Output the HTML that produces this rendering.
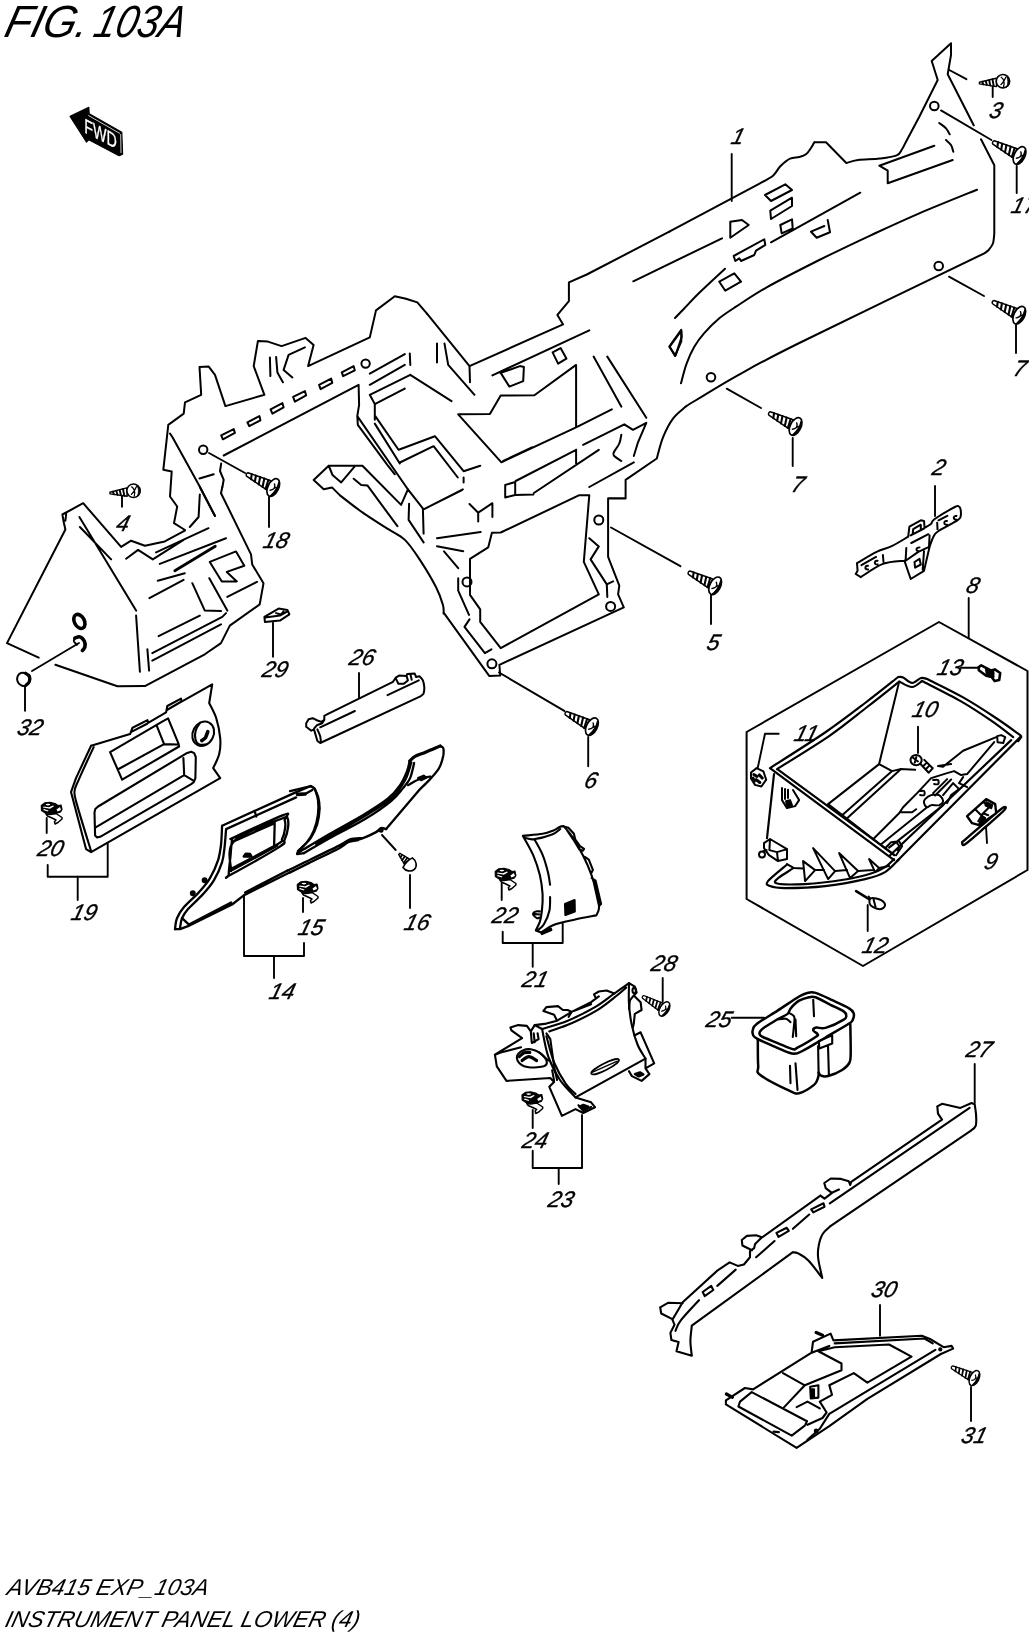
<!DOCTYPE html>
<html lang="en">
<head>
<meta charset="utf-8">
<title>FIG.103A - AVB415 EXP_103A - INSTRUMENT PANEL LOWER (4)</title>
<style>
html,body{margin:0;padding:0;background:#fff;}
body{width:1029px;height:1635px;overflow:hidden;position:relative;}
svg{display:block;position:absolute;left:0;top:0;}
svg{will-change:transform;}
text{font-family:"Liberation Sans",sans-serif;font-style:italic;fill:#000;stroke:none;}
.n{font-size:22.5px;stroke:#000;stroke-width:0.35px;}
</style>
</head>
<body>
<svg width="1029" height="1635" viewBox="0 0 1029 1635">
<defs>
<!-- long tapping screw, tip at origin, axis +x -->
<g id="scr" fill="none" stroke="#000" stroke-width="1.5" stroke-linejoin="round" stroke-linecap="round">
<path d="M0.6 -1.7 C-0.6 -1 -0.6 1.2 0.8 1.9 L24.6 5 L24.6 -5 Z" fill="#fff"/>
<path d="M4.6 -2 L6.2 2.6 M9 -2.7 L10.8 3.2 M13.4 -3.3 L15.4 3.8 M17.8 -3.9 L20 4.4 M22 -4.5 L23.6 4.8" stroke-width="2.1"/>
<ellipse cx="29.8" cy="0" rx="5.3" ry="9.5" fill="#fff" stroke-width="1.7"/>
<path d="M32.2 -7.4 C36 -3 35.6 4.6 31 8.6 C33 3.8 33.4 -3 32.2 -7.4 Z" fill="#000" stroke-width="1.1"/>
<path d="M29.2 -3.8 C30.6 -2.6 31.2 -1 31 0.4 C30.4 2 29.4 3 28.2 3.8 M31 0.4 L32.4 -1.4" stroke-width="1.4"/>
</g>
<!-- short screw with round phillips head -->
<g id="scs" fill="none" stroke="#000" stroke-width="1.4" stroke-linejoin="round" stroke-linecap="round">
<path d="M0 -0.8 L17 -4.2 L17 4.2 L0 0.9 Z" fill="#fff"/>
<path d="M3 -1.2 L3.8 1.5 M6.4 -1.9 L7.4 2.2 M9.8 -2.6 L10.8 2.9 M13.2 -3.3 L14.2 3.6" stroke-width="1.9"/>
<circle cx="23.6" cy="-1" r="6.7" fill="#fff" stroke-width="1.6"/>
<path d="M22 -5 C24.5 -3.5 25.5 1 24 4.4 M26.8 -5 C25.4 -2 22.8 1.4 21.4 2.4" stroke-width="1.3"/>
<path d="M27.8 -5.4 C31 -2 30.6 2.8 27 5.2 C28.8 1.6 29 -2 27.8 -5.4Z" fill="#000" stroke-width="0.8"/>
</g>
<!-- spring clip, origin top-left, ~21x22 -->
<g id="clip" stroke="#000" stroke-linejoin="round" stroke-linecap="round">
<path d="M5 12 L9 12.5 L15 11.5 L21 15.5 L21 17 L17 20.5 L14 22 L13.5 19.5 L15 18 L11 16 L6.5 14 Z" fill="#fff" stroke-width="1.5"/>
<path d="M0.3 3.5 L4 0.8 L9 0.3 L14 1.5 L17 3.5 L20 3 L21 7.5 L19.5 10 L15 11.5 L11 12 L5 11.5 L0.5 8.5 Z" fill="#000" stroke-width="1.2"/>
<ellipse cx="7" cy="2.6" rx="2.4" ry="0.8" fill="#fff" stroke="none"/>
<path d="M2 5.6 L9 6.8 L13 4.2 L12 3.6 L8 5.2 L2.5 4.6 Z M15.5 7.6 L19 5 L20 8 L16.5 9.6 Z M2 8 L7 9.6 L7.5 8.6 L3 7 Z" fill="#fff" stroke="none"/>
</g>
<!-- short screw, mushroom head -->
<g id="scm" fill="none" stroke="#000" stroke-width="1.4" stroke-linejoin="round" stroke-linecap="round">
<path d="M0 -0.8 L11 -3.6 L11 3.6 L0 0.9 Z" fill="#fff"/>
<path d="M2.6 -1.2 L3.4 1.5 M5.6 -2 L6.6 2.3 M8.6 -2.8 L9.6 3" stroke-width="1.8"/>
<path d="M12 -6.6 C11 -3 11 3 12.4 6.8 C17 7.6 21.6 4 21.6 0 C21.6 -4.4 17 -7.6 12 -6.6 Z" fill="#fff" stroke-width="1.6"/>
</g>
</defs>
<rect width="1029" height="1635" fill="#fff"/>
<g fill="none" stroke="#000" stroke-width="2" stroke-linejoin="round" stroke-linecap="round">
<path d="M669.3 231.7 L760 183.3M760 183.3C762.2 182.1 769.6 178.5 773 175.7C776.4 172.8 777.5 169.2 780.3 166.3C783.2 163.5 786.8 160.2 790 158.7C793.2 157.1 796.6 157.8 799.3 157C802.1 156.2 804.4 155.5 806.3 154C808.3 152.5 809.7 149.9 811 148C812.3 146.1 813.8 143.3 814.3 142.3M814.3 142.3 L826 142.3 L846.3 163M846.3 163C848.3 162.5 852.4 160.8 858 160C863.6 159.2 873.2 159.3 879.7 158.5C886.1 157.7 892.9 156.9 896.7 155.3C900.4 153.8 900.4 151.6 902 149.3C903.6 147.1 905.3 142.9 906 141.7M906 141.7 L919.3 116.7 L937.7 80 L931.7 61 L951 43.3 L951 55 L948.3 70.7 L947.7 74.3 L973.7 125.3M981 139.3 L994.3 165.3 L994.3 233.3M994.3 233.3C994.1 235 993.9 240.6 993 243.3C992.1 246.1 990.1 248.3 988.7 250C987.2 251.7 985.1 252.8 984.3 253.3M984.3 253.3C953.5 268.3 840.7 322.5 799.3 343C757.9 363.5 754.9 365.8 736 376.3C717.1 386.9 694.3 401.3 686 406.3" fill="none" stroke-width="2"/>
<circle cx="934.3" cy="106" r="4.3" fill="none" stroke-width="2"/>
<circle cx="938.7" cy="266" r="4.3" fill="none" stroke-width="2"/>
<circle cx="711" cy="377.3" r="4.3" fill="none" stroke-width="2"/>
<path d="M633.3 281.3 L722 238.3M675 318C676.5 316.4 679.9 312.9 684 308.7C688.1 304.4 692.5 299.3 699.3 292.7C706.2 286 720.7 272.7 725 268.7M771 242.3 L860.3 192.7M681 383.3C681.9 380 684.4 369.4 686.7 363.3C688.9 357.2 691.4 351.7 694.3 346.7C697.2 341.7 699.8 338.1 704 333.3C708.2 328.6 714 322.8 719.3 318.3C724.7 313.9 728.1 311.8 736 306.7C743.9 301.5 752.8 295.1 766.7 287.3C780.6 279.6 802 268.7 819.3 260C836.7 251.3 854 243.1 870.7 235.3C887.3 227.6 901.6 220.9 919.3 213.3C937.1 205.7 967.4 193.6 977 189.7M765 195 L785.3 184.3 L792 190 L771 201ZM770.3 210.7 L792 197.7 L792 206 L771 219ZM780.3 225 L792 219.3 L792.7 228.3 L781.7 233.3ZM730.3 221.7 L742 220 L748.7 225 L730.3 237.7ZM733.7 256 L764.3 239.3 L765.3 245 L756 250.7 L754.3 255 L741 261 L739.3 258.3 L735.3 261ZM719.3 281.7 L734.3 273.3 L741 281.7 L725.3 290.7ZM824.3 226 L811 231.7 L816.7 237.7 L830 232.3 L827.7 220M934.3 145.7 L879.3 165.7 L887.7 170.7 L887.7 183.3 L952.7 160M939.3 123C940.4 123.9 944.3 126.4 946 128.3C947.7 130.2 949.1 133.3 949.7 134.3M946 140C946.8 140.8 949.8 143.1 951 145C952.2 146.9 952.9 150.6 953.3 151.7M669.7 346.7 L681.3 330.7 L681.3 341.3 L675 356ZM168.3 424.8 L170 423.6 L183.7 413.6 L185 402.3 L201.2 394.8 L199.5 366.9 L208.7 366.6 L215 374.9 L225.4 406.1 L264.4 394.8 L253.7 366.1 L257.9 341.1 L267.9 341.6 L281.6 346.1 L305.6 337.9 L313.6 344.9 L308.1 366.1 L369.8 337.4 L376 310.4 L394.8 296.2 L406 298.7 L417.3 302.4 L427 313.7M168.3 424.8 L163.3 469.8 L171.7 471.5 L170 496.5 L177.2 506.5 L174 523.2 L185 530M269.9 357.4 L270.4 376.1M276.1 356.9 L277.4 372.4 L282.9 382.3M304.9 347.4 L288.6 354.9 L283.6 369.9 L292.4 377.4M221.2 435.3 L233.7 429.1 L234.9 432.8 L222.9 439.3ZM247.4 422.3 L259.4 416.1 L260.4 420.3 L249.2 426.1ZM270.6 409.3 L282.4 403.1 L283.6 407.3 L272.4 413.6ZM293.1 396.8 L304.9 391.1 L306.1 395.3 L294.9 401.6ZM319.1 384.8 L331.1 378.6 L332.3 382.8 L320.6 389.1ZM341.8 372.4 L353.6 366.1 L354.8 370.4 L343.1 376.1Z" fill="none" stroke-width="2"/>
<circle cx="365.6" cy="363.6" r="4.2" fill="none" stroke-width="2"/>
<circle cx="203.2" cy="449.8" r="4.2" fill="none" stroke-width="2"/>
<path d="M223.7 455.5 L358.6 384.8 L359.1 404.8 L357.3 416.1 L357.8 424.8 L387.3 464.8 L394.8 474.3M357.3 416.1 L408 489.5M369.8 373.6 L404.8 354.1M409.8 353.6 L410.3 364.9M369.8 384.8 L404.8 364.9M374.8 404.1 L369.8 394.8 L410.3 374.9M404.8 388.6 L374.8 404.1 L374.8 419.8M375.3 416.1 L398.5 449.8M374.8 423.6 L399.8 463.5M170 433.5 L172.5 437.3 L200 487 L215 516M199.5 478.5 L213.7 474.3M221.2 463.5 L220 471 L223.7 479.8 L222.4 487M669.3 231.7 L586.8 274.5 L568.9 282.4 L568.9 301.2 L557.4 314.9 L563.1 324.4 L469.5 366.1 L427 313.7M669.3 346.6 L681.2 329.9 L681.7 336.9 L675.5 355.6ZM437 343.6 L437 362.4M444.5 343.6 L448.2 364.9 L474.5 394.8M469.5 366.1 L470 382.3M410.3 374.9 L451.5 401.1M492.4 375.4 L589.3 330.4M500.7 372.9 L519.9 366.1 L523.9 366.9 L523.2 381.1 L509.4 386.6ZM552.6 352.4 L560.6 348.1 L566.4 358.6 L558.1 363.6ZM576.1 427.3 L576.1 364.9 L534.4 395.3 L500.7 395.6 L489.9 414.1 L458.2 414.3 L501.4 462.3 L576.1 427.3 L611.8 409.3M503.2 461 L531.9 447.3M593.6 356.6 L621.3 406.6M607.3 356.6 L646.3 417.8M583.1 444.8 L624.3 424.3 L633 429.8 L646.3 422.8 L638 442.3 L633.8 456M621.3 434.8C621 436.3 620.6 440.6 619.3 443.5C618.1 446.5 614.6 450.2 613.8 452.3C613 454.4 613.1 454.6 614.3 456C615.6 457.5 620.1 460.2 621.3 461M576.1 449.8 L576.1 463.5M515.7 481 L576.1 449.8M533.9 493 L598.8 449.8M589.3 487 L633.8 462.3M505.2 485 L515.2 482 L515.2 495 L505.2 497.5ZM515.2 495 L533.4 494.5M685.5 406.8C683.4 408.8 676.8 413.5 673 418.6C669.3 423.6 665.7 430.6 663 437.3C660.3 444 657.8 455 656.8 458.5M656.8 458.5 L625.6 479.8 L625.6 498.5 L608.1 498.5M625.6 497 L625.6 498.2 L608.1 498.2 L608.1 556.9 L619.3 585.7 L618.1 594.4 L623.8 607.4 L499.4 664.8 L500.2 675.6 L489.4 676.1 L444 613.1M579.3 495.2 L589.3 495.2 L583.8 561.9 L598.8 594.4 L500.7 648.1 L480.2 621.9 L480.2 609.4 L470 594.9 L470 558.9 L488.2 547.4 L491.9 532.7 L500.7 532.5Z" fill="none" stroke-width="2"/>
<circle cx="598.8" cy="520" r="4.5" fill="none" stroke-width="2"/>
<circle cx="467" cy="581.9" r="4.5" fill="none" stroke-width="2"/>
<circle cx="610.6" cy="606.4" r="4.5" fill="none" stroke-width="2"/>
<circle cx="491.9" cy="663.8" r="4.5" fill="none" stroke-width="2"/>
<path d="M589.3 538.2 L598.8 546.4 L590.6 559.4 L606.8 584.4 L613.1 581.4M606.8 584.4 L607.3 596.9M437 538.2 L480.7 532M437 546.2 L463.2 551.2M444 551.4 L458.2 568.2M458.2 578.2 L458.2 590.6 L469 614.9M469.5 619.4 L464.5 626.9 L484.9 653.1 L491.4 649.3M427 507.7 L462 490M469.5 504 L478.2 512.7 L492.4 503.2 L492.4 517M478.2 512.7 L478.2 521.5M362.4 465.7 L328.7 465.7 L313.7 480 L323.7 489.2 L332 487.4 L340 495.4M340 495.4C343.7 498.3 354.5 506.9 362.4 512.4C370.3 518 380.3 524.1 387.4 528.7C394.5 533.2 399.5 534.7 404.9 539.9C410.3 545.1 414.7 552 419.9 559.9C425.1 567.8 432.3 579.9 436.1 587.3C439.9 594.8 441.6 600.5 442.9 604.8C444.1 609.2 443.5 612.1 443.6 613.6M328.7 465.7 L332.5 475 L341.2 482.4 L355.4 465.7M362.4 465.7 L401.1 504.9 L407.9 489.4M353.7 478.7 L361.2 484.9 L367.4 485.4 L397.4 526.2M409.1 503.7 L408.6 519.9 L423.6 542.4M422.9 509.4 L423.6 533.6M407.9 489.4 L423.6 509.4 L462.8 489.4M399.9 462.5 L433.6 446.2 L457.8 477.5M399.4 449.5 L434.9 436.2 L463.6 471.2 L480.3 465.7M463.6 477.5 L463.6 482.4M184.8 530.7 L164.8 541.4 L144.9 545.7 L131.1 540.7 L121.1 546.9 L83.2 503.2 L62.4 514.5 L63.7 522 L65.4 529.5 L7 643.1 L38.7 657.6M55.4 664.8 L117.4 686.3 L144.9 686.1 L204.8 654.3 L221 643.1 L229.8 625.6 L259.7 604.4 L263.5 583.2 L252.2 564.4 L251 554.4 L221 493.2 L222.3 487M66.2 514 L65.4 520.7M79.4 517 L136.1 610.6M79.9 527 L111.1 559.4M136.1 615.6 L139.9 671.8M147.4 649.3 L149.1 670.6M126.1 558.7 L138.1 549.9 L152.8 559.4 L183.6 539.9M156.1 552.4 L208.5 528.2M159.8 563.9 L226 538.2" fill="none" stroke-width="2"/>
<path d="M174.8 570.7 L215.3 546.2" fill="none" stroke-width="2.8"/>
<path d="M157.8 580.7 L184.8 573.2M149.4 598.1 L183.6 579.9M192.3 583.2 L204.8 610.6 L221 611.1M209.3 578.2 L227.3 610.6M227.3 596.9 L257 581.9M209.8 561.9 L236 551.4 L244.3 565.7 L226.8 571.9 L236.8 581.4 L221.8 581.4ZM158.6 636.1 L199.8 615.6M152.3 653.1 L222.3 616.9 L226 613.1M152.3 660.6 L221 624.4M199.8 487 L214.8 515.7M199.8 494.5 L198.6 517 L189.8 527" fill="none" stroke-width="2"/>
<ellipse cx="79.4" cy="621.4" rx="5" ry="7.5" fill="none" stroke-width="3.6" transform="rotate(-28 79.4 621.4)"/>
<path d="M74.9 638.1C75.8 637.9 78.3 636.3 79.9 636.9C81.5 637.4 83.6 639.7 84.4 641.3C85.2 643 85.2 645.3 84.9 646.8C84.6 648.4 82.8 650 82.4 650.6" fill="none" stroke-width="3.6"/>
<path d="M74.9 638.1C74.8 638.6 73.6 640.2 73.9 641.3C74.3 642.5 76.4 644.3 76.9 644.8" fill="none" stroke-width="2"/>
<ellipse cx="23.2" cy="679.3" rx="6" ry="6.7" fill="none" stroke-width="2" transform="rotate(-20 23.2 679.3)"/>
<path d="M25.5 673.3C26.1 673.8 28.8 674.9 29.5 676.3C30.1 677.7 29.8 680.3 29.2 681.8C28.6 683.3 26.5 684.7 26 685.3" fill="none" stroke-width="3.2"/>
<path d="M91.1 745.7 L130.1 734.1 L132.5 727.7 L147.5 720.1 L148.1 722.9 L166.1 712.4 L167.3 706 L181 698.6 L181.6 701.6 L212.2 684.4 L209.2 703M209.2 703C210.3 705.5 214.4 712.2 216.2 718C218 723.9 219.7 732.1 220.2 738.1C220.7 744.1 220.4 749.1 219.2 754.1C218 759.1 214.2 765.8 213.2 768.1M213.2 768.1 L220.2 778.1 L91.1 852.2 L86.1 849.2 L71 792.1 L76 778.1 L91.1 745.7M93.7 747.1C91.2 752.4 82.3 771.6 79 779.1C75.8 786.6 74.6 787.3 74.4 792.1C74.3 797 75.3 798.3 78 808.1C80.8 818 88.9 844 91.1 851.2M130.9 732.1 L147.1 723.7M166.9 710 L180.6 702M110.1 752.1 L163.1 721.1 L168.1 718.4 L178.5 743.7 L179.1 746.5 L122.1 779.7ZM156.5 725.1 L164.1 744.1 L177.1 744.5M164.1 744.1 L117.7 769.5M94.5 812.5 L95.3 809.1 L98.1 806.5 L187.2 752.9 L191.2 751.7 L194.2 753.1 L195.8 757.1 L195.4 778.1 L193.8 782.1 L191.2 784.1 L100.1 836.8 L97.1 837.4 L95.1 835.4ZM96.1 827.2 L184.2 775.1 L192.6 780.1M184.2 775.1 L183.4 758.1" fill="none" stroke-width="2.1"/>
<ellipse cx="203.2" cy="733.7" rx="10.4" ry="12.6" fill="none" stroke-width="2.1" transform="rotate(28 203.2 733.7)"/>
<path d="M200.2 722.5C199.4 723.7 196.6 727.3 195.8 730.1C195 732.8 194.8 736.7 195.4 739.1C195.9 741.5 197.4 743.6 199.2 744.5C201 745.4 205 744.5 206.2 744.5" fill="none" stroke-width="2.1"/>
<path d="M201.8 740.5C202.4 740 204.4 739.1 205.4 737.7C206.4 736.2 207.4 732.7 207.8 731.7" fill="none" stroke-width="3.6"/>
<path d="M222.1 825.7 L295.1 792.6 L310.7 786 L314.1 788M314.1 788C314.8 789.5 317.3 793.5 318.2 797C319.1 800.5 319.7 804.5 319.6 809C319.4 813.6 318.6 819.2 317.2 824.1C315.7 828.9 313.1 834.4 310.7 838.1C308.4 841.7 305.2 843.8 303.1 846.1C301 848.4 299 851.1 298.1 852.1M222.1 825.7C221.9 828.7 221.7 838.3 221.1 844.1C220.4 849.8 219.9 854.4 218.1 860.1C216.2 865.8 213.2 872.8 210 878.1C206.9 883.5 203.4 887.3 199 892.1C194.7 897 187.7 902.8 184 907.1C180.3 911.5 178.5 914.5 177 918.2C175.5 921.8 175.3 927.3 175 929.2M226.1 829.1C225.8 831.9 225.3 840.6 224.7 846.1C224 851.6 223.8 856.4 222.1 862.1C220.3 867.8 217.2 874.8 214 880.1C210.9 885.5 207.4 889.3 203 894.1C198.7 899 191.5 905.1 188 909.1C184.5 913.2 183.4 915 182 918.2C180.7 921.3 180.3 926.5 180 928.2M226.1 829.1 L256.1 815.5 L296.1 797.4M255.1 812.7 L256.3 816.5" fill="none" stroke-width="2.3"/>
<path d="M297.5 794.4 L305.1 794" fill="none" stroke-width="3.6"/>
<path d="M305.1 794 L312.3 790M175 929.2 L180 929.2 L188 926.2 L232.1 904.5 L244.1 895.1 L289.5 872.5M245.1 892.5 L287.5 870.5M182 918.2 L189 924.6 L231.1 902.5" fill="none" stroke-width="2.3"/>
<circle cx="204.6" cy="880.3" r="1.8" fill="#000" stroke-width="2.3"/>
<circle cx="192.8" cy="893.3" r="1.8" fill="#000" stroke-width="2.3"/>
<path d="M228.7 874.5C228.7 871.3 229.9 861.8 230.5 856.1C231 850.4 231.4 843.2 232.1 840.1C232.8 836.9 226.2 841.2 234.7 837.1C243.2 832.9 274.4 818.5 283.1 815.1C291.9 811.7 286.3 814.7 287.1 816.7C288 818.7 288.6 823.2 288.1 827.1C287.7 831 286 836.7 284.5 840.1C283 843.4 288.2 841.2 279.1 847.1C270 852.9 238.5 870.5 230.1 875.1C221.7 879.7 228.6 877.7 228.7 874.5ZM231.1 871.1C231.6 866.1 225.6 849.9 234.1 841.1C242.6 832.3 273.7 822 282.1 818.5C290.6 815 284.2 818.5 284.7 820.1C285.2 821.7 285.6 824.9 285.1 828.1C284.7 831.2 283.5 836.3 282.1 839.1C280.8 841.8 285.5 839.4 277.1 844.5C268.8 849.6 239.6 865.5 232.1 869.7M234.1 841.1 L274.7 823.1 L274.1 846.1 L232.7 868.1" fill="none" stroke-width="2.3"/>
<path d="M243.7 856.5 L245.7 853.7 L250.1 853.9 L251.5 856.5Z" fill="#000" stroke-width="2.3"/>
<path d="M232.7 869.7 L277.1 845.7" fill="none" stroke-width="2.6"/>
<path d="M290 791.1 L311 786.1 L315 789.1M315 789.1C315.5 790.9 317.5 795.9 318 800.1C318.5 804.3 318.7 809.1 318 814.1C317.4 819.1 315.9 825.4 314 830.1C312.2 834.8 309.7 838.6 307 842.1C304.3 845.6 299.5 849.6 298 851.1M298 851.1 L297.2 854.1 L304 853.1" fill="none" stroke-width="2.3"/>
<path d="M297.2 853.7C298.3 853 298.5 852.5 304 849.1C309.5 845.8 320 839.5 330 833.7C340.1 827.9 354.4 820.4 364.1 814.5C373.8 808.6 382.1 803.4 388.1 798.5C394.1 793.6 396.9 789.6 400.1 785.1C403.3 780.5 405.5 775.1 407.1 771.1C408.7 767 409.3 762.7 409.7 761" fill="none" stroke-width="2.4"/>
<path d="M304 853.1C308.4 850.6 319.9 843.8 330 838.1C340.2 832.4 354.9 825.3 365.1 819.1C375.3 812.9 384.8 806.3 391.1 801.1C397.4 795.9 399.9 791.9 403.1 788.1C406.3 784.2 408.3 782.2 410.1 778.1C412 773.9 413.5 765.5 414.1 763M316 843.7C320.4 841.3 333.4 834 342.1 829.1C350.7 824.2 359.9 819.3 368.1 814.1C376.3 808.9 384.9 803.8 391.1 798.1C397.3 792.4 401.7 786 405.1 780.1C408.5 774.1 410.3 765.4 411.3 762.4" fill="none" stroke-width="2.3"/>
<path d="M409.7 761C410.6 760.3 412.4 757.9 415.1 756.4C417.9 754.9 422 753.8 426.1 752C430.3 750.3 437.8 747 440.2 746" fill="none" stroke-width="3.2"/>
<path d="M440.2 746C440.7 746.4 442.7 746.4 443.2 748C443.7 749.7 443.8 752.7 443.2 756C442.5 759.4 441.3 764.2 439.1 768C437 771.9 433.3 775.6 430.1 779.1C427 782.6 421.8 787.4 420.1 789.1M420.1 789.1 L386.1 829.1M408.1 785.1C409.8 784.2 414.5 781.1 418.1 779.7C421.8 778.2 428.1 777 430.1 776.5" fill="none" stroke-width="2.3"/>
<path d="M418.1 778.1 L423.7 775.7 L426.1 777.7 L421.1 780.1Z" fill="#000" stroke-width="2.3"/>
<path d="M386.1 829.1C385.3 828.9 382.8 827.6 381.1 828.1C379.4 828.6 379.6 830.3 376.1 832.1C372.6 833.9 364.4 837.7 360.1 839.1C355.7 840.5 353.4 839.1 350.1 840.5C346.7 842 346.7 844.1 340.1 847.7C333.4 851.4 318.4 858.4 310 862.5C301.6 866.7 293 870.9 289.6 872.6" fill="none" stroke-width="2.4"/>
<path d="M287.6 870.6C291.3 868.7 301.3 864 310 859.7C318.8 855.5 333.4 848.5 340.1 845.1C346.7 841.7 346.4 840.5 350.1 839.3C353.7 838.2 360.1 838.3 362.1 838.1M340.1 846.5C341.4 845.8 345.1 843.2 348.1 842.1C351.1 841.1 356.4 840.5 358.1 840.1" fill="none" stroke-width="2.3"/>
<circle cx="381.1" cy="830.1" r="1.4" fill="none" stroke-width="2.3"/>
<path d="M306.2 723.3 L308.6 719.2 L312.7 718.2 L317.4 720.5 L321.5 721.9 L324.3 719.9 L324.3 715.8 L327 714.4 L393 681.8 L395.7 677.7 L399.1 675.6 L406.6 676.1 L407.2 673.9 L414.7 673.6 L416.1 677 L419.5 676.3M419.5 676.3C420.1 677 422.1 678.6 422.9 680.4C423.7 682.2 424.1 685.1 424.3 687.2C424.4 689.4 424.1 691.9 423.6 693.3C423 694.8 421.3 695.6 420.9 696.1M420.9 696.1 L320.2 743 L317.4 741 L314 729.4 L311.3 730.7 L306.2 726.7 L306.2 723.3M314 728.7 L316.8 725.3 L322.2 723.3 L324.3 719.9M317.4 729.4C317.9 730.5 319.6 734.1 320.2 736.2C320.7 738.2 320.7 740.7 320.9 741.6M320.2 727.3 L354.9 711M387.5 695.1 L418.8 680.4M395.7 678.4 L398.4 683.8 L403.8 683.8 L407.9 680.4 L406.6 676.1M410.6 675 L411.7 679.7M264.4 616.9 L278.6 608.6 L287.4 609.9 L289.4 614.4 L279.9 620.6 L264.9 621.9ZM265.4 617.4 L279.9 615.6 L287.9 611.1M276.1 613.1 L281.1 614.4 L283.6 611.4" fill="none" stroke-width="2"/>
<path d="M522.9 835.9C526.1 835.5 537.5 834.7 542.6 833.8C547.7 832.9 550.6 831.5 553.5 830.4C556.3 829.3 557.9 827.7 559.6 827C561.3 826.3 563 826.2 563.7 826.1M563.7 826.1C565.1 827.9 569.2 832.2 572.5 837.2C575.8 842.2 580.2 849.9 583.4 856.3C586.6 862.6 589.3 869 591.6 875.3C593.8 881.7 595.8 888.9 597 894.4C598.3 899.8 599.2 904.4 599 908C598.9 911.5 596.8 914.2 596.3 915.4M596.3 915.4C592.8 916.1 582.4 917.9 575.2 919.5C568.1 921.1 559.1 922.8 553.5 925C547.8 927.1 543.3 931.2 541.2 932.4M541.2 932.4 L535.8 930.4M522.9 835.9C524.6 839 530.2 848.3 533.1 854.9C535.9 861.5 538.3 868.7 539.9 875.3C541.5 881.9 542.2 888.5 542.6 894.4C542.9 900.2 542.4 906.1 541.9 910.7C541.5 915.2 540.9 918.3 539.9 921.6C538.8 924.9 536.5 928.9 535.8 930.4M534.4 839.3C535.8 841.9 540.3 849.3 542.6 854.9C544.9 860.5 546.8 867.6 548 872.6C549.3 877.6 549.7 882.8 550.1 884.8M550.1 897.1C550 899.3 550.4 906.1 549.4 910.7C548.4 915.2 545.8 921.1 543.9 924.3C542.1 927.5 539.4 928.8 538.5 929.7M524.9 837.9C526.4 838.1 529.2 839.8 533.7 839.3C538.3 838.7 547.7 836.2 552.1 834.5C556.5 832.8 558.9 830 560.3 829M563 826.3 L568.4 827.7 L573.9 833.8 L575.2 839.3 L580 846.1 L584.1 848.8 L582.7 850.8 L579.3 849.5M584.8 856.9 L588.8 859.7 L592.9 869.9 L591.6 872.6M591.6 878 L595.6 880.7 L601.1 903.9 L599 905.9M567.1 830.4 L573.2 839.3 L578.6 848.1M593.6 881.4 L598.6 903.9" fill="none" stroke-width="2.1"/>
<path d="M565 903.9 L574.6 900.1 L574.8 911.4 L565.4 915Z" fill="#000" stroke-width="2.1"/>
<path d="M539.9 911.4C539.2 911.4 536.9 911 535.8 911.4C534.6 911.7 533.4 912.7 533.1 913.4C532.7 914.1 533.1 914.6 533.7 915.4C534.4 916.2 536.1 917.8 537.1 918.2C538.2 918.5 539.4 917.6 539.9 917.5M535.1 914.1 L539.9 914.5" fill="none" stroke-width="2.1"/>
<path d="M541.2 932.4 L550.7 928.4 L551.4 930 L541.9 934.1Z" fill="#000" stroke-width="2.1"/>
<path d="M542.1 1029C546.4 1027.6 558.9 1024.3 567.7 1020.7C576.6 1017 587.2 1011.6 595 1007.1C602.7 1002.5 608.7 997.4 614.4 993.5C620.1 989.5 626.5 984.9 629 983.2M629 983.2C629 986.7 628.5 997.1 629 1004.2C629.5 1011.2 630.4 1018.7 631.9 1025.5C633.3 1032.3 635.4 1039.5 637.7 1045C640 1050.5 644.2 1056.3 645.5 1058.6M645.5 1058.6 L575.5 1097.4M542.1 1029C543.1 1033.6 545.3 1048.1 548.3 1056.6C551.3 1065.1 555.4 1073.2 560 1080C564.5 1086.8 572.9 1094.5 575.5 1097.4M549.3 1031.4C553 1030 563.7 1026.7 571.6 1023.2C579.6 1019.7 589.4 1014.9 596.9 1010.4C604.4 1005.8 611.5 999.8 616.3 996C621.2 992.2 624.4 989 626.1 987.6M546.4 1036.2C547.7 1040.6 550.9 1054.5 554.1 1062.5C557.4 1070.4 562.2 1078.6 565.8 1083.8C569.4 1089.1 573.9 1092.3 575.5 1094" fill="none" stroke-width="2.1"/>
<ellipse cx="605.1" cy="1066.7" rx="15.5" ry="3.3" fill="none" stroke-width="1.7" transform="rotate(-27 605.1 1066.7)"/>
<path d="M592.6 1072.2 L617.3 1061.1" fill="none" stroke-width="1.3"/>
<path d="M542.1 1029 L534.7 1025.1 L530.8 1031.4 L526.9 1025.9 L518.2 1025.1 L510.4 1027.5 L511.4 1030.4 L522.1 1038.2 L494.9 1054.7 L496.8 1066.4 L506.5 1080.9 L550.3 1078 L554.1 1081.9 L549.3 1086.8 L561.9 1115.9 L575.5 1109.1 L583.3 1113 L595 1107.2 L591.1 1102.3 L575.5 1097.4M494.9 1054.7 L500.7 1052.4 L521.1 1047.3M530.8 1031.4 L531.8 1043 L538.6 1039.1 L537.6 1033.3M533.7 1033.3 L534.7 1042.1M517.2 1055.7C517.9 1053.6 520.8 1051.5 523 1050.4C525.3 1049.3 528.1 1048.9 530.8 1049.2C533.6 1049.6 537 1050.9 539.6 1052.7C542.2 1054.6 545.6 1058.3 546.4 1060.5C547.2 1062.7 547.3 1064.8 544.4 1066C541.5 1067.1 533.1 1067.8 528.9 1067.3C524.7 1066.8 521.1 1064.8 519.2 1062.9C517.2 1060.9 516.6 1057.7 517.2 1055.7Z" fill="none" stroke-width="2.1"/>
<path d="M519.2 1056.6C520 1056 522.2 1053.5 524 1052.7C525.8 1052 528.9 1052.4 529.8 1052.4M522.1 1060.5C523.2 1059.9 526.4 1056.6 528.9 1056.6C531.3 1056.6 535.4 1059.9 536.6 1060.5" fill="none" stroke-width="3.2"/>
<path d="M539.6 1052.7 L548.3 1060.5M546.4 1033.3 L550.3 1039.1 L554.1 1066.4 L557.1 1080M552.2 1070.2 L554.1 1080.9M543.4 1011 L546.4 1007.1 L558 1006.1 L562.9 1010 L567.7 1010 L571.6 1011.9 L568.7 1016.8M543.4 1011 L554.1 1014.8 L557.1 1020.7M534.7 1025.1 L546.4 1023.6 L557.1 1020.7 L571.6 1011.9 L591.1 1002.2 L598.8 996.4M594 994.4 L598.8 991.5 L606.6 990.5 L614.4 993.5M594 994.4 L595.9 998.3M573.6 1011 L591.1 1004.2M629 983.2 L634.8 986.7 L636.7 992.5 L633.8 995.4 L640.6 1002.2 L641.6 1010 L634.8 1013.9 L633.8 1023.6 L632.9 1027.5M633.8 995.4 L629.9 1000.3 L629 1009" fill="none" stroke-width="2.1"/>
<ellipse cx="634.2" cy="990.5" rx="1.7" ry="2.7" fill="none" stroke-width="2.1" transform="rotate(0 634.2 990.5)"/>
<path d="M634.8 1035.3 L640.6 1032.3 L654.2 1063.4 L645.5 1068.3 L649.4 1074.1 L641.6 1080.9 L631.9 1076.1 L629 1071.2M645.5 1058.6 L645.5 1068.3" fill="none" stroke-width="2.1"/>
<path d="M634.8 1074.1 L638.7 1076.5 L643.5 1074.5 L640 1072.2Z" fill="#000" stroke-width="2.1"/>
<path d="M578.4 1105.2 L583.3 1111.1 L591.1 1106.8" fill="none" stroke-width="2.1"/>
<path d="M579.4 1106.8 L584.8 1109.5 L588.3 1106.4 L583.3 1104.8Z" fill="#000" stroke-width="2.1"/>
<path d="M752.9 1029.6C753.5 1027.6 752.9 1026.9 757 1023.8C761.1 1020.6 770.6 1015.1 777.6 1010.6C784.7 1006 794.2 999.5 799.1 996.5C804.1 993.6 804.6 993.5 807.4 992.9C810.1 992.3 811.5 991.7 815.6 992.9C819.8 994.1 826.7 997.6 832.2 1000.2C837.7 1002.7 845.1 1005.9 848.7 1008.1C852.3 1010.2 853 1011.1 853.6 1013C854.3 1015 853.6 1017.9 852.8 1019.6C852 1021.4 853.2 1020.8 848.7 1023.8C844.1 1026.8 833.3 1032.9 825.6 1037.5C817.8 1042 807.4 1048.4 802.4 1051C797.5 1053.7 798 1053.2 795.8 1053.5C793.6 1053.8 793.1 1054 789.2 1052.7C785.4 1051.4 778.1 1048.1 772.7 1045.8C767.3 1043.4 760.2 1040.4 757 1038.6C753.7 1036.9 753.9 1036.9 753.2 1035.3C752.5 1033.8 752.2 1031.5 752.9 1029.6ZM759.8 1032C760.4 1030.9 760.6 1030 763.6 1027.9C766.6 1025.8 773.7 1021.7 777.6 1019.3C781.6 1017 785.4 1015.7 787.6 1013.9C789.8 1012 788.9 1010.3 790.9 1008.1C792.8 1005.9 796.1 1002.4 799.1 1000.7C802.2 998.9 806.3 997.9 809 997.3C811.8 996.8 812.1 996.1 815.6 997.3C819.2 998.6 825.8 1002.4 830.5 1004.8C835.2 1007.1 841.1 1009.6 843.7 1011.4C846.3 1013.2 846.2 1014.1 846.2 1015.5C846.2 1016.9 847.2 1017.6 843.7 1019.6C840.3 1021.7 830.1 1026.6 825.6 1027.9C821 1029.2 818.5 1027.2 816.5 1027.6C814.4 1028 813 1029.3 813.2 1030.4C813.4 1031.5 817.2 1033.1 817.6 1034.2C818 1035.3 819 1034.7 815.6 1037C812.3 1039.3 801.3 1045.7 797.5 1047.7C793.6 1049.7 795.8 1049.8 792.5 1049.1C789.2 1048.3 782.6 1045.1 777.6 1043.1C772.7 1041.1 765.8 1038.4 762.8 1037C759.8 1035.6 760.3 1035.3 759.8 1034.5C759.3 1033.7 759.2 1033.1 759.8 1032Z" fill="none" stroke-width="2.5"/>
<path d="M789.2 1013C789.9 1013.5 792.5 1014.4 793.3 1015.5C794.2 1016.6 794.6 1016.1 794.5 1019.6C794.4 1023.2 793.1 1034.1 792.8 1037M795.5 1019.6 L796.2 1036.2M777.6 1019.3C779 1019.2 783.8 1018.4 785.9 1018.8C788.1 1019.3 789.8 1021.6 790.5 1022.1M813.2 999.8 L814 1016.3" fill="none" stroke-width="2.1"/>
<path d="M757.8 1039.5C757.9 1043.9 757.7 1060 758.2 1065.9C758.6 1071.8 755.1 1070.9 760.3 1075C765.5 1079.1 782.7 1087.7 789.2 1090.7C795.7 1093.7 795 1094.1 799.1 1093.2C803.3 1092.2 810.8 1087.5 814 1084.9C817.2 1082.3 817.4 1079.5 818.1 1077.5C818.9 1075.4 818.5 1073.3 818.6 1072.5M818.6 1072.5C819.1 1073.1 819.7 1075.3 821.4 1075.8C823.1 1076.4 825.4 1076.8 828.9 1075.8C832.3 1074.9 838.6 1072.2 842.1 1070C845.5 1067.8 848.1 1065.5 849.5 1062.6C850.9 1059.7 850.5 1059.2 850.7 1052.7C850.8 1046.2 850.4 1028.6 850.3 1023.8" fill="none" stroke-width="2.5"/>
<path d="M790 1065.9 L790.5 1083.3M795.5 1063.4 L797.5 1089.9M818.1 1046.1 L818.6 1072.5M828 1045.3 L828.9 1075M818.9 1041.1 L832.2 1035.3 L832.2 1043.6 L819.3 1048.6ZM820.4 1195.6 L824.5 1198.7 L831.8 1193.2M839 1189.5 L831.8 1192.8 L825.7 1188.1 L824.3 1183 L830.8 1178.5 L841 1178.9 L848.8 1181.3 L850.2 1185 L851.2 1181.9 L942 1119.7 L938 1113.6 L937.3 1106.4 L942 1103.8 L960.4 1107.9 L971.6 1103 L974.7 1104.4M974.7 1104.4C974.9 1106.3 976 1112 976.1 1115.6C976.3 1119.2 976.6 1123.3 975.7 1125.8C974.8 1128.4 971.5 1130.1 970.6 1130.9M970.6 1130.9 L830.8 1225.8M830.8 1225.8C829.5 1227.2 824.7 1230.6 822.7 1234C820.6 1237.4 819.3 1242.1 818.6 1246.2C817.8 1250.3 817.6 1253.2 818.2 1258.5C818.8 1263.7 821.6 1274.6 822.2 1277.9M829.8 1203.4 L969.6 1107.9M822.2 1277.9C819.9 1275 812.4 1264.6 808.4 1260.5C804.4 1256.4 800.7 1254.7 798.2 1253.4C795.6 1252 793.7 1252.5 792.9 1252.3M820.4 1195.7 L761.2 1238 L755.1 1244.1 L754.1 1248.2 L750 1251.2 L750 1257.3 L743.9 1264.5 L737.8 1265.9 L729.6 1262.4 L717.3 1270.6 L682.7 1302.2 L675.5 1314.5 L672.4 1319.6 L674.5 1324.7 L670.4 1332.9 L671.4 1340 L678.6 1342 L676.5 1351.2 L691.8 1355.7M691.8 1355.7C691.6 1353.3 690.4 1346 690.4 1341C690.4 1336 691.6 1328.3 691.8 1325.7M691.8 1325.7 L792.9 1252.2M741.8 1240 L746.9 1235.9 L756.1 1235.3 L761.8 1237.3M741.8 1240 L742.4 1245.5 L752 1250.2M660.2 1307.3 L668.4 1302.7 L682.7 1303.3M660.2 1307.3 L661.2 1313.5 L671.4 1318.6M811.2 1209.4 L823.5 1203.3 L824.5 1206.7 L813.3 1212.4ZM809.2 1214.5 L792.9 1228.8M776.5 1232.9 L786.7 1227.8 L788.8 1230.8 L778.6 1236.9ZM774.5 1241 L756.1 1257.3M735.7 1269.6 L717.3 1285.9M702.7 1292 L711.2 1285.9 L713.3 1290 L704.7 1296.1ZM699 1300.2C695.9 1303.6 684.5 1315.5 680.6 1320.6C676.7 1325.7 676.4 1329.1 675.5 1330.8M725.9 1400.3 L744.9 1388 L753.1 1389.4 L811.6 1352.7 L813 1341.8 L830.6 1333.6 L833.4 1340.4 L921.8 1335.8 L930 1339 L943.6 1347.2 L951.7 1345.9 L953.1 1348.6 L940.9 1354 L867.4 1398.9 L829.3 1426.1 L796.6 1447.9 L725.9 1404.4 L725.9 1400.3" fill="none" stroke-width="2.1"/>
<path d="M816.2 1332.5 L822.5 1335.2M726.4 1394 L732.4 1397.3" fill="none" stroke-width="3.2"/>
<path d="M834.7 1343.4 L924.5 1338.5 L932.7 1343.4M818.4 1351.3 L834.7 1347.2 L889.1 1344.5 L911.5 1356.7 L867.4 1382.6 L853.8 1373.1 L829.3 1385.3 L832 1394.8 L819.8 1401.6 L826.6 1412.5 L822.5 1418 L807.5 1424.8M818.4 1351.3 L841.5 1363.5 L841.5 1370.3 L804.8 1385.3 L783 1373.1M804.8 1385.3 L783 1408.4M740 1401.6 L751.7 1392.1 L807 1421.2 L804.8 1425.6 L791.7 1435.6 L738.4 1406.5ZM935.4 1349.9 L829.3 1413.9 L819.8 1428.8 L807.5 1439.7M811.6 1352.7 L829.3 1345.9M810.2 1386.7 L818.4 1385.3 L818.4 1397.6 L810.8 1398.4Z" fill="none" stroke-width="2.1"/>
<path d="M811.9 1389.4 L814 1389.4 L814 1396.7 L811.9 1396.7Z" fill="#000" stroke-width="2.1"/>
<path d="M796.6 1407.1 L807.5 1401.6 L819.8 1408.4M773.5 1431.6 L778.9 1432.1" fill="none" stroke-width="2.1"/>
<circle cx="816.2" cy="1431" r="1.4" fill="none" stroke-width="2.1"/>
<circle cx="940.3" cy="1349.4" r="1.1" fill="none" stroke-width="2.1"/>
<path d="M857 563.2C860.3 561.3 870.8 554.7 876.6 551.9C882.4 549 886.5 548.7 891.7 546.2C897 543.6 905.4 538.3 908.2 536.7M908.2 536.7 L909.4 526.6 L920.8 520.3 L924 520.9 L924.6 527.8M924.6 527.8C925.6 527.2 929.2 525.5 930.9 524.1C932.6 522.6 930.7 521.8 934.7 519C938.7 516.2 950.9 509.1 954.9 507C958.9 504.9 957.8 505.9 958.7 506.4C959.7 506.8 960.3 507.8 960.6 509.5C960.9 511.2 961.1 514.7 960.6 516.5C960.1 518.3 961.1 517.8 957.4 520.3C953.8 522.7 942.5 528.3 938.5 531C934.5 533.7 934.9 534.1 933.4 536.7C932 539.3 930.3 545.1 929.6 546.8M929.6 546.8 L924 570.8 L910.7 579 L904.4 560.7M904.4 560.7C900.8 561.2 890.2 561.1 882.9 563.9C875.6 566.6 864.5 574.9 860.8 577.1M860.8 577.1 L855.7 574 L857.6 570.8 L857 563.2M912.6 534.2 L913.2 529.1 L920.8 524.7 L920.8 529.7M861.4 565.1 L876 556.9M882.9 555 L883.5 562M906.3 548.1 L905.6 560.7M911.3 543 L928.4 534.2M929.6 535.4 L929 546.8 L918.3 551.9 L905.6 560.7M937.2 522.8 L937.5 529.1M938.5 520.3 L947.3 515.8M914.5 562 L919.5 558.8 L920.8 564.5 L915.1 567.6ZM924 551.2 L922.7 569.5M868 565.8C867.6 565.9 866.2 565.9 865.8 566.4C865.5 566.9 865.5 568.4 865.8 568.9C866.2 569.4 867.6 569.4 868 569.5M877.6 560.7C877.2 560.8 875.7 560.8 875.3 561.3C874.9 561.9 874.9 563.3 875.3 563.9C875.7 564.4 877.2 564.4 877.6 564.5M919.5 547.4C919.1 547.5 917.4 547.5 917 548.1C916.6 548.6 916.6 550.1 917 550.6C917.4 551.1 919.1 551.1 919.5 551.2M947.1 520.9C946.7 521 945.2 521 944.8 521.5C944.4 522.1 944.4 523.5 944.8 524.1C945.2 524.6 946.7 524.6 947.1 524.7M956.4 515.8C956.1 516 954.6 516 954.3 516.5C953.9 517 953.9 518.5 954.3 519C954.6 519.5 956.1 519.5 956.4 519.6M910.7 535.4 L924 528.5" fill="none" stroke-width="2"/>
<path d="M70.1 116.4 L88.8 107.4 L89.2 113.7 L121.8 132.3 L122.6 154.1 L119.1 155.7 L88.8 139.7 L86.4 142Z" fill="#000" stroke-width="1.2"/>
<path d="M939 622 L1027.5 671 L1027.5 870 L863 966 L746.6 899 L746.6 732Z" fill="none" stroke-width="2"/>
<path d="M770 768.1C779.2 762.2 809.2 743.3 825.1 732.5C840.9 721.6 852.9 712.3 865.1 703C877.3 693.8 892.6 681.4 898.2 677M777 769.1C785.7 763.6 814.1 746.4 829.1 736.1C844.1 725.7 855.4 716.1 867.1 707C878.8 698 893.8 685.9 899.2 681.6M770 768.1 L894.1 860.2M778 769.7 L894.7 855.2M774 774.1 L767 838.2" fill="none" stroke-width="2.2"/>
<path d="M899.2 681.6 L879.1 764.1 L828.1 804.1M879.1 764.1 L892.1 771.1 L900.2 769.1 L915.2 769.7M892.1 771.1 L842.1 815.2M900.2 769.7 L847.1 818.2M828.1 804.1 L894.1 855.2M782 788.1 L782 800.1 L787 808.1 L795.1 806.1 L799.1 800.1 L793 790.1M785 789.1 L785 799.1M788 789.7 L788 798.1" fill="none" stroke-width="2"/>
<path d="M786 801.1 L790 800.1 L792 805.1 L787.4 807.1Z" fill="#000" stroke-width="2"/>
<path d="M751 772.5 L756.6 768.1 L763.4 771.3 L766.2 779.7 L761.4 786.5 L755 784.9 L751 778.5Z" fill="none" stroke-width="2"/>
<path d="M753.8 774.5 L757 776.5M753 778.1 L754.2 781.3M756.2 779.7 L759.8 782.5M759.4 774.9 L762.2 778.1" fill="none" stroke-width="3"/>
<path d="M899.1 677C899.7 677.1 900.9 676.4 903.1 677.4C905.2 678.4 909.1 682.9 912.1 683C915.1 683.1 918.6 678.7 921.1 678C923.6 677.4 926.1 678.9 927.1 679M927.1 679C933.1 682.1 951.8 691 963.1 697.4C974.5 703.8 985.7 711.2 995.2 717.5C1004.7 723.7 1016 732.1 1020.2 735.1M1020.2 735.1 L1021.2 737.1 L1018.2 741.1M900.1 682C902.1 682.9 908.4 687.2 912.1 687C915.8 686.9 920.4 682 922.1 681M922.1 681C928.6 684.4 949.6 694.8 961.1 701.4C972.6 708.1 982.5 714.7 991.2 720.7C999.8 726.6 1009.5 734.3 1013.2 737.1M1021.2 736.1 L897.1 861M1011.2 740.1 L890.1 855.2" fill="none" stroke-width="2.2"/>
<path d="M996.2 737.1 L963.1 750.7 L943.1 766.7 L938.1 766.1M997.2 736.1 L1001.2 735.1 L1005.2 737.1 L1003.2 743.1 L997.6 742.3ZM994.2 742.1 L967.1 774.1 L961.1 775.1 L954.1 771.1 L947.1 773.1 L931.1 778.1 L917.1 793.1 L903.1 807.2 L899.1 813.2 L873.1 839.2M901.1 812.2 L912.1 812.2 L916.1 809.2M947.1 779.1 L933.1 793.1M951.1 779.5 L935.1 795.5M925.1 799.1C926.3 797.8 928.8 795.8 931.1 795.1C933.4 794.5 937.1 794.1 939.1 795.1C941.1 796.1 943.1 799.5 943.1 801.1C943.1 802.8 941.1 804.5 939.1 805.2C937.1 805.8 933.1 804.8 931.1 805.2C929.1 805.5 928.3 807.5 927.1 807.2C925.9 806.8 924.4 804.5 924.1 803.1C923.8 801.8 923.9 800.5 925.1 799.1ZM943.1 795.1 L953.1 783.1 L959.1 789.1 L951.1 795.1 L947.1 803.1M933.1 780.1C933.9 780.1 937.3 779.5 938.1 780.1C938.9 780.8 938.8 783.5 938.1 784.1C937.4 784.8 934.8 784.1 934.1 784.1M920.1 791.1C920.8 791.1 923.4 790.5 924.1 791.1C924.8 791.8 924.8 794.5 924.1 795.1C923.4 795.8 920.8 795.1 920.1 795.1M963.1 777.1 L959.1 783.1 L967.1 787.1M927.1 807.2 L881.1 844.2M943.1 805.2 L889.1 847.6M885.1 848.2 L891.1 842.2 L899.1 841.2 L902.1 846.2 L896.1 855.2M897.1 843.2C897.4 843.7 899 845 899.1 846.2C899.1 847.4 897.7 849.5 897.5 850.2M938.1 766.1 L951.1 764.1" fill="none" stroke-width="2"/>
<ellipse cx="916.1" cy="760.1" rx="5.6" ry="5.2" fill="none" stroke-width="2" transform="rotate(0 916.1 760.1)"/>
<path d="M913.1 757.7 L917.9 761.5M916.3 757.1 L914.7 762.7M920.3 763.7 L928.7 772.7 L932.7 768.3 L924.3 759.9M923.1 766.3 L926.3 763.1M925.5 769.5 L929.1 765.9" fill="none" stroke-width="2"/>
<path d="M978.8 667 L981.2 665.4 L991.2 670.6 L994.8 669.4 L1000.2 673 L999.2 680 L994.6 681 L991.6 677 L986.2 675.8 L978.8 670.2 L978.8 667" fill="none" stroke-width="2.6"/>
<path d="M986.2 669 L993.2 672 L993.2 677 L987.2 675Z" fill="#000" stroke-width="2.6"/>
<path d="M962.1 842.2C965.6 839.2 976.5 829.8 983.2 824.2C989.8 818.5 998.7 810.5 1002.2 808.2C1005.7 805.8 1007 807 1004.2 810.2C1001.3 813.3 991.7 821.5 985.2 827.2C978.7 832.8 969 841.7 965.1 844.2C961.3 846.7 962.6 842.5 962.1 842.2M967.1 816.2 L986.2 799.1 L995.2 804.1 L996.2 813.2 L979.2 825.2 L972.1 823.2Z" fill="none" stroke-width="2.4"/>
<path d="M975.2 809.2 L981.2 815.2 L989.2 807.2 L983.2 802.1M978.2 821.2 L983.2 813.2 L988.2 815.2" fill="none" stroke-width="2"/>
<path d="M979.2 824.2 L982.2 816.2 L985.2 818.2 L983.2 824.2Z" fill="#000" stroke-width="2"/>
<path d="M986.2 802.1 L992.2 805.2 L991.2 808.2 L985.6 805.6Z" fill="#000" stroke-width="2"/>
<path d="M787 864.5C783.9 867.2 770.9 877.5 768 881.1C765.2 884.7 767.2 884.9 770 886.1C772.9 887.3 775.9 888.1 785 888.1C794.2 888.1 811.7 887.6 825.1 886.1C838.4 884.6 855.1 881.4 865.1 879.1C875.1 876.8 879.5 875.4 885.1 872.1C890.8 868.7 896.8 861.2 899.2 859.1M792.6 868.5C789.7 870.8 773 879.9 775 882.5C777.1 885.1 793.4 884.6 805.1 884.1C816.7 883.6 834.1 881.3 845.1 879.5C856.1 877.7 864.5 875.6 871.1 873.5C877.8 871.4 881.3 869.5 885.1 867.1C889 864.7 892.6 860.4 894.1 859.1" fill="none" stroke-width="2.2"/>
<path d="M764 843.1 L770 839 L787 849.1 L787 859.1 L778 861.1 L769 855.1 L764 848.1ZM787 849.1 L777 852.1 L778 861.1M770 839 L769.4 850.1 L777 852.1" fill="none" stroke-width="2"/>
<circle cx="762" cy="854.5" r="3" fill="none" stroke-width="2"/>
<path d="M763.4 851.1 L766.6 850.1M787 864.1 L794 868.1 L803.1 868.5M803.1 861.1 L815.1 870.1 L805.1 881.1ZM813.1 848.1 L835.1 871.1 L828.1 879.1ZM815.1 870.1 L824.1 870.1M839.1 853.1 L858.1 871.1 L850.1 878.1ZM835.1 871.1 L847.1 870.1M869.1 859.1 L879.1 868.1 L875.1 872.1ZM858.1 871.1 L873.1 870.1M879.1 868.1 L889.1 866.1" fill="none" stroke-width="2"/>
<path d="M856.1 891.1 L869.1 899.1" fill="none" stroke-width="2.6"/>
<path d="M868.7 896.5 L873.1 902.5" fill="none" stroke-width="2"/>
<path d="M871.5 898.1C873.5 897.6 878.9 898.9 881.1 900.1C883.4 901.3 885.1 903.6 885.1 905.1C885.1 906.6 883.1 908.8 881.1 909.1C879.1 909.5 875.1 908.1 873.1 907.1C871.2 906.1 869.8 904.6 869.5 903.1C869.3 901.6 869.6 898.6 871.5 898.1Z" fill="#fff" stroke-width="2"/>
<path d="M873.5 899.1 L875.5 907.1" fill="none" stroke-width="2"/>
</g>
<g fill="none" stroke="#000" stroke-width="1.9" stroke-linecap="round" stroke-linejoin="round">
<text transform="translate(2.7 36.8) skewX(-14)" font-size="45.2" textLength="82.6" lengthAdjust="spacingAndGlyphs">FIG.</text>
<text transform="translate(91.7 36.8) skewX(-14)" font-size="45.2" textLength="90.6" lengthAdjust="spacingAndGlyphs">103A</text>
<text transform="translate(6 1594.5) skewX(-14)" font-size="23" textLength="201" lengthAdjust="spacingAndGlyphs">AVB415 EXP_103A</text>
<text transform="translate(4 1626.8) skewX(-14)" font-size="23" textLength="354.2" lengthAdjust="spacingAndGlyphs">INSTRUMENT PANEL LOWER (4)</text>
<text class="n" transform="translate(730 144) skewX(-15)" font-size="20" text-anchor="start">1</text>
<path d="M731.7 154 L731.7 201"/>
<text class="n" transform="translate(988 118) skewX(-15)" font-size="20" text-anchor="start">3</text>
<path d="M949.3 70 L966.4 79.2"/>
<path d="M992.7 86 L992.7 97"/>
<use href="#scs" transform="translate(979.4 83) rotate(-2) scale(1.0)"/>
<text class="n" transform="translate(1010 213) skewX(-15)" font-size="20" text-anchor="start">17</text>
<path d="M941 110.4 L991.4 140"/>
<path d="M1016.7 166 L1016.7 193"/>
<use href="#scr" transform="translate(993 142) rotate(27) scale(1.0)"/>
<text class="n" transform="translate(1012 375.5) skewX(-15)" font-size="20" text-anchor="start">7</text>
<path d="M949 276.7 L984 296"/>
<path d="M1016 325 L1016 353"/>
<use href="#scr" transform="translate(992.7 301.7) rotate(27) scale(1.0)"/>
<text class="n" transform="translate(790 492) skewX(-15)" font-size="20" text-anchor="start">7</text>
<path d="M726.7 388.7 L761 408"/>
<path d="M792.7 438 L792.7 466"/>
<use href="#scr" transform="translate(769 413) rotate(27) scale(1.0)"/>
<text class="n" transform="translate(705.5 650) skewX(-15)" font-size="20" text-anchor="start">5</text>
<path d="M611 527.5 L680.4 566.2"/>
<path d="M711 595 L711 624"/>
<use href="#scr" transform="translate(688.6 572.3) rotate(27) scale(1.0)"/>
<text class="n" transform="translate(931 475) skewX(-15)" font-size="20" text-anchor="start">2</text>
<path d="M935 486 L935 516"/>
<text class="n" transform="translate(965 593) skewX(-15)" font-size="20" text-anchor="start">8</text>
<path d="M968.7 598 L968.7 638"/>
<text class="n" transform="translate(936 675) skewX(-15)" font-size="20" text-anchor="start">13</text>
<path d="M961 667.7 L977.7 667.7"/>
<text class="n" transform="translate(911 717) skewX(-15)" font-size="20" text-anchor="start">10</text>
<path d="M918 726.7 L918 753"/>
<text class="n" transform="translate(793 740.7) skewX(-15)" font-size="20" text-anchor="start">11</text>
<path d="M778.7 733.7 L765 733.7 L757.7 768"/>
<text class="n" transform="translate(983 869) skewX(-15)" font-size="20" text-anchor="start">9</text>
<path d="M986 826.7 L987 843"/>
<text class="n" transform="translate(861 953) skewX(-15)" font-size="20" text-anchor="start">12</text>
<path d="M867.7 905 L867.7 931"/>
<text class="n" transform="translate(115 530.7) skewX(-15)" font-size="20" text-anchor="start">4</text>
<path d="M122 495 L122 506.7"/>
<use href="#scs" transform="translate(110 493) rotate(-3) scale(1.0)"/>
<text class="n" transform="translate(262 548) skewX(-15)" font-size="20" text-anchor="start">18</text>
<path d="M209 453 L245 473"/>
<path d="M269 497 L269 527"/>
<use href="#scr" transform="translate(246.7 474) rotate(27) scale(1.0)"/>
<text class="n" transform="translate(261 677) skewX(-15)" font-size="20" text-anchor="start">29</text>
<path d="M273 622.7 L273 656.7"/>
<text class="n" transform="translate(16 735) skewX(-15)" font-size="20" text-anchor="start">32</text>
<path d="M25 686.7 L25 710.7"/>
<path d="M32 671 L79 643"/>
<text class="n" transform="translate(36.5 855.5) skewX(-15)" font-size="20" text-anchor="start">20</text>
<path d="M46.7 818 L46.7 833"/>
<text class="n" transform="translate(70 920) skewX(-15)" font-size="20" text-anchor="start">19</text>
<path d="M47.7 865 L47.7 876.7 L107.7 876.7 L107.7 842.7"/>
<path d="M77.7 876.7 L77.7 900"/>
<text class="n" transform="translate(297 935) skewX(-15)" font-size="20" text-anchor="start">15</text>
<path d="M303 898 L303 912"/>
<text class="n" transform="translate(268 999) skewX(-15)" font-size="20" text-anchor="start">14</text>
<path d="M244 895 L244 956 L304 956 L304 943"/>
<path d="M274 956 L274 978"/>
<text class="n" transform="translate(348 665) skewX(-15)" font-size="20" text-anchor="start">26</text>
<path d="M359 673 L359 698"/>
<text class="n" transform="translate(403 930) skewX(-15)" font-size="20" text-anchor="start">16</text>
<path d="M410 875 L410 908"/>
<path d="M382 835 L395.7 850"/>
<use href="#scm" transform="translate(399.3 853.8) rotate(46) scale(1.0)"/>
<text class="n" transform="translate(583 788.4) skewX(-15)" font-size="20" text-anchor="start">6</text>
<path d="M499 672.5 L564.3 710.9"/>
<path d="M588.2 737 L588.2 766.3"/>
<use href="#scr" transform="translate(565.5 712.8) rotate(27.6) scale(1.0)"/>
<text class="n" transform="translate(491 922.7) skewX(-15)" font-size="20" text-anchor="start">22</text>
<path d="M501.7 883 L501.7 900"/>
<text class="n" transform="translate(521 986.7) skewX(-15)" font-size="20" text-anchor="start">21</text>
<path d="M502.7 931.7 L502.7 943 L562.7 943 L562.7 923"/>
<path d="M532.7 943 L532.7 966.7"/>
<text class="n" transform="translate(650 971) skewX(-15)" font-size="20" text-anchor="start">28</text>
<path d="M662.7 978 L662.7 1001.7"/>
<use href="#scr" transform="translate(642.7 996.5) rotate(30) scale(0.84)"/>
<text class="n" transform="translate(705 1026.7) skewX(-15)" font-size="20" text-anchor="start">25</text>
<path d="M731.7 1017.7 L764 1017.7"/>
<text class="n" transform="translate(521 1148) skewX(-15)" font-size="20" text-anchor="start">24</text>
<path d="M532.7 1110 L532.7 1128"/>
<text class="n" transform="translate(547 1206.7) skewX(-15)" font-size="20" text-anchor="start">23</text>
<path d="M532.7 1150.7 L532.7 1168 L582 1168 L582 1115"/>
<path d="M558.7 1168 L558.7 1184"/>
<text class="n" transform="translate(965 1056.7) skewX(-15)" font-size="20" text-anchor="start">27</text>
<path d="M974.7 1064 L974.7 1103"/>
<text class="n" transform="translate(870 1296.7) skewX(-15)" font-size="20" text-anchor="start">30</text>
<path d="M880 1305 L880 1335.8"/>
<text class="n" transform="translate(960 1443) skewX(-15)" font-size="20" text-anchor="start">31</text>
<path d="M971 1387 L971 1421"/>
<use href="#scr" transform="translate(951.7 1367) rotate(26) scale(0.85)"/>
<use href="#clip" transform="translate(494.9 868)"/>
<use href="#clip" transform="translate(41 802)"/>
<use href="#clip" transform="translate(297 881)"/>
<use href="#clip" transform="translate(521.7 1091.5)"/>
<path d="M88.6 115.6 L119.6 133.3 M120.7 134.5 L121 152.6" stroke="#fff" stroke-width="0.8"/>
<text transform="translate(84.3 132.4) skewY(27) scale(0.7 1)" style="font-style:normal;fill:#fff;stroke:#fff;stroke-width:0.3px" font-size="20.5">FWD</text>
</g>
</svg>
</body>
</html>
